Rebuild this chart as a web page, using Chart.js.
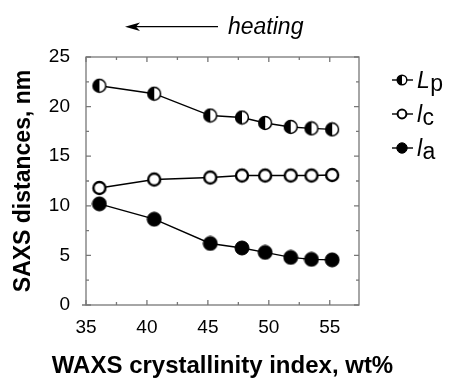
<!DOCTYPE html>
<html>
<head>
<meta charset="utf-8">
<title>SAXS distances vs WAXS crystallinity</title>
<script src="https://cdn.jsdelivr.net/npm/chart.js@4/dist/chart.umd.min.js"></script>
<style>
  html, body { margin: 0; padding: 0; background: #fff; }
  #wrap { width: 452px; height: 379px; }
</style>
</head>
<body>
<div id="wrap"><canvas id="saxsChart" width="452" height="379"></canvas></div>
<script>
// WAXS crystallinity index of each sample, wt%
const crystallinity = [36.1, 40.6, 45.2, 47.8, 49.7, 51.8, 53.5, 55.2];
// SAXS distances, nm
const longPeriod = [22.1, 21.3, 19.1, 18.9, 18.35, 17.95, 17.8, 17.7];
const crystalThickness = [11.8, 12.65, 12.85, 13.05, 13.05, 13.05, 13.05, 13.1];
const amorphousThickness = [10.2, 8.65, 6.2, 5.75, 5.3, 4.8, 4.6, 4.55];

// Axis ticks
const xTicks = [35, 40, 45, 50, 55];
const xMinorTicks = [37.5, 42.5, 47.5, 52.5];
const yTicks = [0, 5, 10, 15, 20, 25];
const yMinorTicks = [2.5, 7.5, 12.5, 17.5, 22.5];

// Legend labels: italic symbol + roman subscript
const legendNames = [["L", "p"], ["l", "c"], ["l", "a"]];

const FONT = "'Liberation Sans', Arial, Helvetica, sans-serif";
const AXIS_GREY = "#777";

document.addEventListener("DOMContentLoaded", function() {

    // 1) Circle markers drawn onto small canvases
    function makeMarker(kind, r, lw) {
        const size = 2 * Math.ceil(r + lw);
        const c = document.createElement("canvas");
        c.width = size;
        c.height = size;
        const g = c.getContext("2d");
        const m = size / 2;
        g.beginPath();
        g.arc(m, m, r, 0, Math.PI * 2);
        g.fillStyle = kind === "filled" ? "#000" : "#fff";
        g.fill();
        if (kind === "half") {
            // left half black
            g.beginPath();
            g.arc(m, m, r, Math.PI / 2, Math.PI * 1.5);
            g.closePath();
            g.fillStyle = "#000";
            g.fill();
        }
        g.beginPath();
        g.arc(m, m, r, 0, Math.PI * 2);
        g.lineWidth = lw;
        g.strokeStyle = "#000";
        g.stroke();
        return c;
    }

    const plotMarkers = [
        makeMarker("half", 6.4, 1.5),
        makeMarker("open", 6.0, 2.4),
        makeMarker("filled", 7.0, 1.0)
    ];
    const legendMarkers = [
        makeMarker("half", 4.8, 1.4),
        makeMarker("open", 4.4, 2.0),
        makeMarker("filled", 5.2, 1.0)
    ];

    function points(yValues) {
        return crystallinity.map((x, i) => ({ x: x, y: yValues[i] }));
    }

    function series(yValues, marker) {
        return {
            data: points(yValues),
            showLine: true,
            borderColor: "#000",
            borderWidth: 1.4,
            tension: 0,
            pointStyle: marker,
            pointRadius: 7,
            pointHoverRadius: 7
        };
    }

    // 2) Frame with inward ticks on all four sides
    const framePlugin = {
        id: "frame",
        beforeDatasetsDraw(chart) {
            const { ctx, chartArea: a, scales } = chart;
            ctx.save();
            ctx.strokeStyle = AXIS_GREY;
            ctx.lineWidth = 1.3;
            ctx.strokeRect(a.left, a.top, a.right - a.left, a.bottom - a.top);
            ctx.beginPath();
            function xTick(v, len) {
                const px = scales.x.getPixelForValue(v);
                ctx.moveTo(px, a.bottom); ctx.lineTo(px, a.bottom - len);
                ctx.moveTo(px, a.top); ctx.lineTo(px, a.top + len);
            }
            function yTick(v, len) {
                const py = scales.y.getPixelForValue(v);
                ctx.moveTo(a.left, py); ctx.lineTo(a.left + len, py);
                ctx.moveTo(a.right, py); ctx.lineTo(a.right - len, py);
            }
            xTicks.forEach(v => xTick(v, 5));
            xMinorTicks.forEach(v => xTick(v, 3));
            yTicks.forEach(v => yTick(v, 5));
            yMinorTicks.forEach(v => yTick(v, 3));
            // short stub left of the zero tick
            ctx.moveTo(a.left - 4, a.bottom); ctx.lineTo(a.left, a.bottom);
            ctx.stroke();
            ctx.restore();
        }
    };

    // 3) Legend at the right, x title, and the "heating" arrow on top
    const notesPlugin = {
        id: "notes",
        afterDraw(chart) {
            const { ctx, chartArea: a } = chart;
            ctx.save();
            ctx.fillStyle = "#000";
            ctx.strokeStyle = "#000";

            legendNames.forEach((name, i) => {
                const y = 80 + i * 34;
                ctx.lineWidth = 1.4;
                ctx.beginPath();
                ctx.moveTo(392, y);
                ctx.lineTo(413, y);
                ctx.stroke();
                const mk = legendMarkers[i];
                ctx.drawImage(mk, 402 - mk.width / 2, y - mk.height / 2);
                ctx.textBaseline = "alphabetic";
                ctx.textAlign = "left";
                ctx.font = "italic 23px " + FONT;
                ctx.fillText(name[0], 417, y + 8);
                const w = ctx.measureText(name[0]).width;
                ctx.font = "23px " + FONT;
                ctx.fillText(name[1], 417 + w + 0.5, y + 11);
            });

            // x axis title (wider than the plot, so drawn here)
            ctx.font = "bold 24px " + FONT;
            ctx.textAlign = "center";
            ctx.textBaseline = "alphabetic";
            ctx.fillText("WAXS crystallinity index, wt%", (a.left + a.right) / 2, 373);

            // arrow pointing left
            ctx.lineWidth = 1.3;
            ctx.beginPath();
            ctx.moveTo(130, 26.7);
            ctx.lineTo(218, 26.7);
            ctx.stroke();
            ctx.beginPath();
            ctx.moveTo(125, 26.7);
            ctx.lineTo(140, 22.5);
            ctx.lineTo(136, 26.7);
            ctx.lineTo(140, 30.9);
            ctx.closePath();
            ctx.fill();

            ctx.font = "italic 23px " + FONT;
            ctx.textAlign = "left";
            ctx.fillText("heating", 228, 34);
            ctx.restore();
        }
    };

    // 4) The chart
    const canvas = document.getElementById("saxsChart");
    new Chart(canvas, {
        type: "scatter",
        data: {
            datasets: [
                series(longPeriod, plotMarkers[0]),
                series(crystalThickness, plotMarkers[1]),
                series(amorphousThickness, plotMarkers[2])
            ]
        },
        options: {
            responsive: false,
            animation: false,
            events: [],
            layout: { padding: { top: 57, right: 93, left: 0, bottom: 0 } },
            plugins: {
                legend: { display: false },
                tooltip: { enabled: false }
            },
            scales: {
                x: {
                    type: "linear",
                    min: 35,
                    max: 57.4,
                    afterBuildTicks: s => { s.ticks = xTicks.map(v => ({ value: v })); },
                    afterFit: s => { s.height = 74; },
                    grid: { display: false },
                    border: { display: false },
                    ticks: { color: "#000", padding: 3, font: { family: FONT, size: 19 } }
                },
                y: {
                    type: "linear",
                    min: 0,
                    max: 25,
                    afterBuildTicks: s => { s.ticks = yTicks.map(v => ({ value: v })); },
                    afterFit: s => { s.width = 86; },
                    grid: { display: false },
                    border: { display: false },
                    ticks: { color: "#000", padding: 8, font: { family: FONT, size: 19 } },
                    title: {
                        display: true,
                        text: "SAXS distances, nm",
                        color: "#000",
                        padding: { top: 10, bottom: 0 },
                        font: { family: FONT, size: 23, weight: "bold" }
                    }
                }
            }
        },
        plugins: [framePlugin, notesPlugin]
    });
});
</script>
</body>
</html>
